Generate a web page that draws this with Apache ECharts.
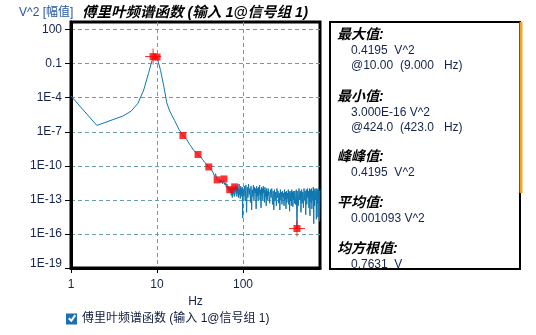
<!DOCTYPE html>
<html>
<head>
<meta charset="utf-8">
<script src="https://cdn.jsdelivr.net/npm/echarts@6/dist/echarts.min.js"></script>
<style>html,body{margin:0;padding:0;background:#fff;}#c{width:536px;height:335px;}</style>
</head>
<body>
<div id="c"></div>
<script>
// ---- data ----
const seriesName = '傅里叶频谱函数 (输入 1@信号组 1)';
const yAxisName = 'V^2 [幅值]';
const xAxisName = 'Hz';

const lowFreqs = [1,2,3,4,5,6,7,8,9,10,11,12,13,14,15,16,17,18,19,20,21,22,23,24,25,26,27,28,29,30,31,32,33,34,35,36,37,38,39,40,41,42,43,44,45,46,47,48,49,50,51,52,53,54,55,56,57,58,59,60,61,62,63,64,65,66,67,68,69,70,71,72,73,74,75,76,77,78,79,80];
const lowVals = [1.4e-4,3.6e-7,1.1e-6,2.4e-6,6.6e-6,3.2e-5,4.7e-4,1.6e-2,0.4195,0.38,
  2.5e-2,1.0e-3,3.5e-5,7e-6,2.5e-6,1e-6,4e-7,1.6e-7,9e-8,4.7e-8,
  3.3e-8,2.4e-8,1.3e-8,7.6e-9,5e-9,3e-9,2.1e-9,1.6e-9,1.25e-9,1e-9,
  8e-10,6.3e-10,5e-10,3.5e-10,2.8e-10,2e-10,1.6e-10,1.2e-10,1e-10,8e-11,
  6.3e-11,5e-11,4.5e-11,3.5e-11,3.2e-11,2.8e-11,1.1e-11,2e-11,1e-11,5.8e-12,
  5e-12,7e-12,4e-12,6.3e-12,3.2e-12,5.6e-12,5e-12,2.5e-12,5e-12,7e-12,
  4e-12,2e-12,3.2e-12,1.26e-12,2.5e-12,1e-12,1.6e-12,6.3e-13,1.26e-12,8e-13,
  4e-13,1.26e-12,2.5e-13,1e-12,1.6e-13,8e-13,3.2e-13,1.26e-12,2e-13,1.4e-12];

const noiseFreqs = [81,82,83,84,85,86,87,88,89,90,91,92,93,94,95,96,97,98,99,100,
  102,104,106,108,110,112,114,116,118,120,122,124,126,128,130,132,134,136,138,140,142,144,146,148,150,152,154,156,158,160,162,164,166,168,170,172,174,176,178,180,182,184,186,188,190,192,194,196,198,200,
  204,208,212,216,220,224,228,232,236,240,244,248,252,256,260,264,268,272,276,280,284,288,292,296,300,304,308,312,316,320,324,328,332,336,340,344,348,352,356,360,364,368,372,376,380,384,388,392,396,400,
  408,416,424,432,440,448,456,464,472,480,488,496,504,512,520,528,536,544,552,560,568,576,584,592,600,608,616,624,632,640,648,656,664,672,680,688,696,704,712,720,728,736,744,752,760,768,776,784];
const noiseVals = [5e-13,2e-12,3e-13,1.3e-12,2e-13,1.6e-12,4e-13,1e-12,1.6e-13,2.5e-12,3e-13,8e-13,1.3e-13,1.6e-12,4e-13,1e-12,2e-13,1.3e-12,2.5e-15,1e-12,
  2e-13,1.6e-12,8e-14,2e-12,8e-15,1.3e-12,1.6e-13,2.5e-12,3e-13,1e-12,6e-14,1.6e-12,1.3e-14,8e-13,2e-13,2e-12,1e-13,1.3e-12,4e-13,1e-12,1.6e-14,1.6e-12,2e-13,1e-12,8e-14,1.3e-12,3e-13,2e-12,1e-13,8e-13,2e-14,1.3e-12,2.5e-13,1e-12,1e-13,1.6e-12,4e-13,8e-13,6e-14,1.3e-12,2e-13,6e-13,3e-14,1e-12,1.6e-13,6e-13,1e-13,1e-12,2.5e-13,5e-13,
  5e-14,8e-13,1.6e-13,1e-12,4e-14,6e-13,1.3e-14,8e-13,1e-13,5e-13,3e-14,1e-12,1.6e-13,6e-13,5e-14,4e-13,1.3e-14,8e-13,1e-13,5e-13,4e-14,6e-13,1.6e-13,4e-13,3e-14,8e-13,1e-13,5e-13,1.6e-14,6e-13,6e-14,4e-13,1.3e-13,8e-13,4e-14,5e-13,1e-14,6e-13,8e-14,4e-13,3e-14,8e-13,1.6e-13,5e-13,2.5e-14,6e-13,1e-13,4e-13,5e-14,6e-13,
  4e-14,8e-13,3e-16,6e-13,3e-14,1e-12,1e-13,6e-13,8e-15,8e-13,5e-14,5e-13,2e-14,1e-12,1e-13,6e-13,5e-15,8e-13,4e-14,1e-12,1.6e-13,6e-13,2e-14,1e-12,4e-15,8e-13,6e-14,1e-12,1.6e-14,6e-13,1e-13,1.3e-12,8e-16,8e-13,3e-14,1e-12,1e-13,6e-13,2e-15,1e-12,5e-14,8e-13,3e-15,1e-12,6e-14,6e-13,1.3e-15,8e-13];

const harmonicFreqs = [10,20,30,40,50,60,70,80];
const extremaFreqs = [9,424];

const yTickExps = [-19,-16,-13,-10,-7,-4,-1,2];
const yTickLabels = ['1E-19','1E-16','1E-13','1E-10','1E-7','1E-4','0.1','100'];
const xTickExps = [0,1,2];
const xTickLabels = ['1','10','100'];
const yRange = [-19, 2.67];
const xRange = [0, 2.895];

const statHeaders = ['最大值:','最小值:','峰峰值:','平均值:','均方根值:'];
const statLines = [['0.4195  V^2','@10.00  (9.000   Hz)'],['3.000E-16 V^2','@424.0  (423.0   Hz)'],['0.4195  V^2'],['0.001093 V^2'],['0.7631  V']];

// ---- build ----
const allFreqs = lowFreqs.concat(noiseFreqs);
const allVals = lowVals.concat(noiseVals);
const lineData = allFreqs.map((f, i) => [Math.log10(f), Math.log10(allVals[i])]);
const pick = f => { const i = allFreqs.indexOf(f); return [Math.log10(f), Math.log10(allVals[i])]; };
const harmonicData = harmonicFreqs.concat(extremaFreqs).map(pick);
const extremaData = extremaFreqs.map(pick);

const FONT = '"Liberation Sans", Arial, "Noto Sans CJK SC", sans-serif';
const LBL = '#14244c';

const graphics = [];
graphics.push({type:'text', left: 19, top: 7, z: 10, style:{text: yAxisName, fill:'#2456a4', font: '12px ' + FONT}});
// legend check mark
graphics.push({type:'polyline', z: 100, zlevel: 0, shape:{points:[[68.8,318.2],[71.3,320.8],[75.3,315.2]]}, style:{stroke:'#ffffff', lineWidth:2, fill:null}});
// right panel
const panel = [];
panel.push({type:'rect', shape:{x:330, y:22, width:190, height:247}, style:{fill:'#fff', stroke:null}, z:1});
const yy = [35, 97, 157, 203, 249];
statHeaders.forEach((h, k) => {
  panel.push({type:'text', z:2, style:{x:337, y:yy[k], text:h, fill:'#000', font:'italic bold 14px ' + FONT, verticalAlign:'middle'}});
  statLines[k].forEach((t, j) => {
    panel.push({type:'text', z:2, style:{x:351, y:yy[k] + 16 + j*15, text:t, fill:LBL, font:'12px ' + FONT, verticalAlign:'middle'}});
  });
});
panel.push({type:'rect', z:3, shape:{x:330, y:22, width:190, height:247}, style:{fill:null, stroke:'#000', lineWidth:2}});
panel.push({type:'rect', z:4, shape:{x:519.5, y:22, width:3, height:171}, style:{fill:'#f5a21f', stroke:null}});
graphics.push({type:'group', children: panel});

const chart = echarts.init(document.getElementById('c'), null, {renderer:'canvas'});
chart.setOption({
  animation: false,
  backgroundColor: '#fff',
  textStyle: {fontFamily: FONT},
  title: {
    text: seriesName, left: 82, top: 5.5, padding: 0,
    textStyle: {fontSize: 14.5, fontWeight: 'bold', fontStyle: 'italic', color: '#000', fontFamily: FONT}
  },
  legend: {
    data: [seriesName], left: 66, top: 313, padding: 0, itemWidth: 11, itemHeight: 11, itemGap: 5,
    icon: 'rect', itemStyle: {color: '#1a6fb5'}, selectedMode: false, z: 5,
    textStyle: {fontSize: 12, color: '#0e1a3c', fontFamily: FONT}
  },
  grid: {left: 71, right: 216, top: 22, bottom: 67, show: true, borderColor: '#000', borderWidth: 3, containLabel: false, outerBoundsMode: 'none'},
  xAxis: {
    type: 'value', min: xRange[0], max: xRange[1], interval: 1,
    name: xAxisName, nameLocation: 'middle', nameGap: 28,
    nameTextStyle: {fontSize: 12, color: LBL, fontFamily: FONT},
    axisLine: {show: true, onZero: false, lineStyle: {color: '#000', width: 3}},
    axisTick: {show: true, length: 5, lineStyle: {color: '#000', width: 1}, customValues: xTickExps},
    axisLabel: {margin: 11, fontSize: 12, color: LBL, fontFamily: FONT, customValues: xTickExps,
      formatter: v => { const i = xTickExps.indexOf(Math.round(v*1000)/1000); return i >= 0 ? xTickLabels[i] : ''; }},
    splitLine: {show: true, lineStyle: {color: '#6a9fa6', width: 1, type: [4, 3]}}
  },
  yAxis: {
    type: 'value', min: yRange[0], max: yRange[1], interval: 3,
    axisLine: {show: true, onZero: false, lineStyle: {color: '#000', width: 3}},
    axisTick: {show: true, length: 6, lineStyle: {color: '#000', width: 1}, customValues: yTickExps},
    axisLabel: {margin: 9, fontSize: 12, color: LBL, fontFamily: FONT, customValues: yTickExps,
      formatter: v => { const i = yTickExps.indexOf(Math.round(v*1000)/1000); if (i < 0) return ''; return i === 0 ? '{b|' + yTickLabels[i] + '}' : yTickLabels[i]; },
      rich: {b: {fontSize: 12, color: LBL, fontFamily: FONT, padding: [0, 0, 8, 0]}}},
    splitLine: {show: true, lineStyle: {color: '#6a9fa6', width: 1, type: [4, 3]}}
  },
  series: [
    {name: seriesName, type: 'line', data: lineData, showSymbol: false, symbol: 'none',
      lineStyle: {color: '#0f77b0', width: 1}, itemStyle: {color: '#0f77b0'}, clip: true, z: 2},
    {name: 'harm', type: 'scatter', data: harmonicData, symbol: 'rect', symbolSize: 7,
      itemStyle: {color: '#ff0000'}, z: 3, silent: true},
    {name: 'ext', type: 'scatter', data: extremaData, symbol: 'path://M0,7.5H16V8.5H0Z M7.5,0H8.5V16H7.5Z', symbolSize: 16,
      itemStyle: {color: '#ff0000'}, z: 4, silent: true}
  ],
  graphic: graphics
});
</script>
</body>
</html>
